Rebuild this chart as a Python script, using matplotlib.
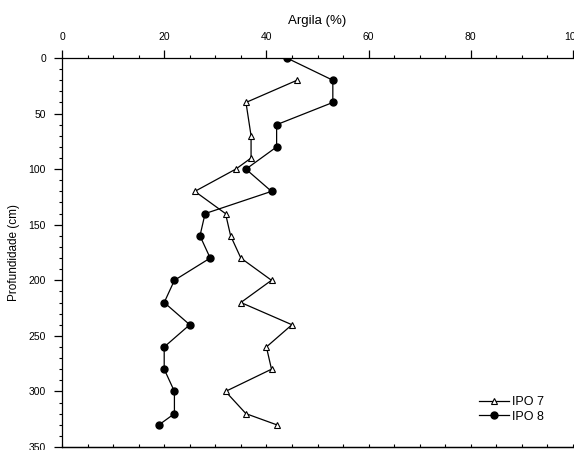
import matplotlib
matplotlib.use("Agg")
import matplotlib.pyplot as plt
from matplotlib.ticker import MultipleLocator

plt.rcParams['font.family'] = ['Liberation Sans', 'DejaVu Sans']

ipo7_depth = [20, 40, 70, 90, 100, 120, 140, 160, 180, 200, 220, 240, 260, 280, 300, 320, 330]
ipo7_argila = [46, 36, 37, 37, 34, 26, 32, 33, 35, 41, 35, 45, 40, 41, 32, 36, 42]

ipo8_depth = [0, 20, 40, 60, 80, 100, 120, 140, 160, 180, 200, 220, 240, 260, 280, 300, 320, 330]
ipo8_argila = [44, 53, 53, 42, 42, 36, 41, 28, 27, 29, 22, 20, 25, 20, 20, 22, 22, 19]

fig = plt.figure(figsize=(5.74, 4.5), dpi=100)
ax = fig.add_axes([62/574, 1 - 447/450, (573-62)/574, (447-58)/450])

ax.plot(ipo7_argila, ipo7_depth, color='black', lw=0.9, marker='^', ms=5,
        mfc='white', mec='black', mew=0.8, label='IPO 7')
ax.plot(ipo8_argila, ipo8_depth, color='black', lw=0.9, marker='o', ms=5,
        mfc='black', mec='black', label='IPO 8')

ax.set_xlim(0, 100)
ax.set_ylim(350, 0)
ax.spines['right'].set_visible(False)
for s in ('top', 'left', 'bottom'):
    ax.spines[s].set_linewidth(0.9)

ax.xaxis.set_label_position('top')
ax.xaxis.tick_top()
ax.xaxis.set_major_locator(MultipleLocator(20))
ax.xaxis.set_minor_locator(MultipleLocator(5))
ax.yaxis.set_major_locator(MultipleLocator(50))
ax.yaxis.set_minor_locator(MultipleLocator(10))
ax.tick_params(which='major', direction='out', length=5.5, width=0.9, labelsize=7.5, pad=6)
ax.tick_params(which='minor', direction='out', length=2.5, width=0.8)
ax.tick_params(axis='x', which='both', bottom=False, top=True)

sec = ax.secondary_xaxis('bottom')
sec.xaxis.set_major_locator(MultipleLocator(5))
sec.tick_params(direction='in', length=2.5, width=0.8, labelbottom=False)
sec.spines['bottom'].set_linewidth(0.9)

ax.set_xlabel('Argila (%)', fontsize=9.5, labelpad=6)
ax.set_ylabel('Profundidade (cm)', fontsize=8.5, labelpad=6)

ax.legend(loc='lower right', bbox_to_anchor=(0.96, 0.04), frameon=False, fontsize=9,
          handlelength=2.4, handletextpad=0.2, labelspacing=0.2, borderpad=0.2)

fig.savefig('out.png', dpi=100)
